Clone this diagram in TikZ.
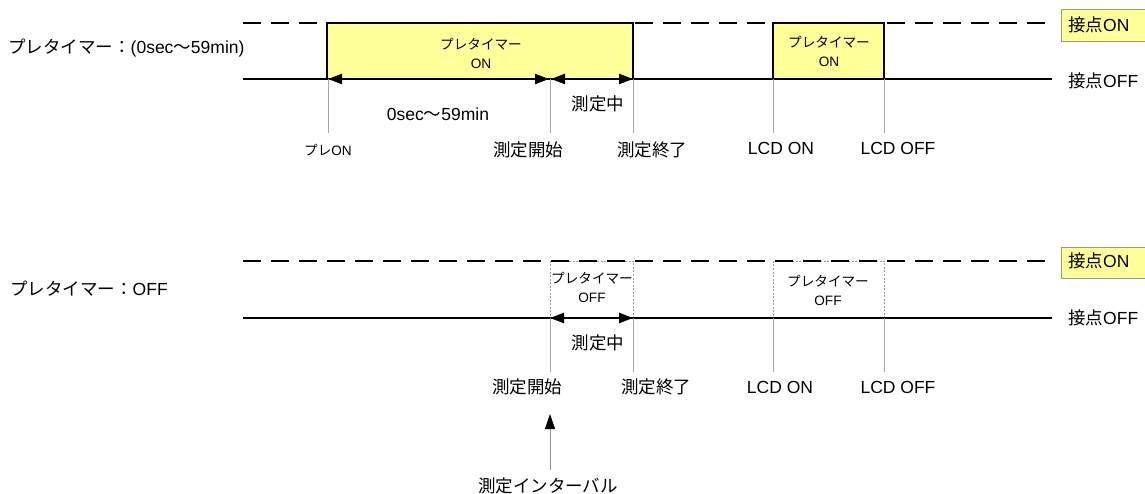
\documentclass[tikz,border=0pt]{standalone}
\usepackage{fontspec}
\setmainfont{Noto Sans CJK JP}
\newfontfamily\latf{Liberation Sans}
\newcommand{\lt}[1]{{\latf #1}}
\usetikzlibrary{arrows.meta}
\definecolor{boxyellow}{HTML}{FFFF99}
\begin{document}
\begin{tikzpicture}[x=1pt,y=-1pt,
  sig/.style={line width=2.4pt},
  sigon/.style={line width=2.4pt, dash pattern=on 18pt off 10pt},
  tick/.style={draw=black!35, line width=0.7pt},
  onbox/.style={draw=black, line width=1.2pt, fill=boxyellow},
  offbox/.style={draw=black!40, line width=0.7pt, dash pattern=on 2pt off 1.5pt},
  dim/.style={line width=2.4pt, {Triangle[length=14pt,width=10pt]}-{Triangle[length=14pt,width=10pt]}},
  big/.style={font=\fontsize{17.5}{20}\selectfont, inner sep=0pt},
  small/.style={font=\fontsize{13.6}{19}\selectfont, inner sep=0pt, align=center},
  legendbox/.style={draw=black!40, line width=0.8pt, fill=boxyellow}
]
\useasboundingbox (0,0) rectangle (1145,494);

% ================= TOP =================
\node[big, anchor=west] (ltop) at (8,48) {プレタイマー：\lt{(0sec}～\lt{59min)}};

\coordinate (tdS) at (243,23);
\coordinate (tdE) at (1052,23);
\coordinate (tsS) at (243,79);
\coordinate (tsE) at (1052,79);
\draw[sigon] (tdS) -- (tdE);

% yellow boxes
\draw[onbox] (327,23) rectangle (633,79);
\draw[onbox] (773,23) rectangle (884,79);
\node[small] (b1) at (481,53) {プレタイマー\\\lt{ON}};
\node[small] (b2) at (829,51) {プレタイマー\\\lt{ON}};

\draw[sig] (tsS) -- (tsE);

% tick points
\coordinate (tA) at (328,79);  \coordinate (tA2) at (328,133);
\coordinate (tB) at (550,79);  \coordinate (tB2) at (550,133);
\coordinate (tC) at (633,79);  \coordinate (tC2) at (633,133);
\coordinate (tD) at (773,79);  \coordinate (tD2) at (773,133);
\coordinate (tE) at (884,79);  \coordinate (tE2) at (884,133);
\draw[tick] (tA) -- (tA2);
\draw[tick] (tB) -- (tB2);
\draw[tick] (tC) -- (tC2);
\draw[tick] (tD) -- (tD2);
\draw[tick] (tE) -- (tE2);

\draw[dim] (tA) -- ([xshift=-1pt]tB);
\draw[dim] ([xshift=1pt]tB) -- (tC);

\node[big] (t0s) at (438,114) {\lt{0sec}～\lt{59min}};
\node[big] (tmeas) at (598,104) {測定中};
\node[small] (tpre) at (328,150) {プレ\lt{ON}};
\node[big] (tstart) at (528,150) {測定開始};
\node[big] (tend) at (652,150) {測定終了};
\node[big] (tlon) at (781,148) {\lt{LCD ON}};
\node[big] (tloff) at (898,148) {\lt{LCD OFF}};

\draw[legendbox] (1061,9) rectangle (1150,41);
\node[big, anchor=west] (tkon) at (1068,25) {接点\lt{ON}};
\node[big, anchor=west] (tkoff) at (1068,81) {接点\lt{OFF}};

% ================= BOTTOM =================
\node[big, anchor=west] (lbot) at (10,289) {プレタイマー：\lt{OFF}};

\coordinate (bdS) at (243,261);
\coordinate (bdE) at (1052,261);
\coordinate (bsS) at (243,318);
\coordinate (bsE) at (1052,318);

\draw[offbox] (550,261) rectangle (633,318);
\draw[offbox] (773,261) rectangle (884,318);
\node[small] (b3) at (592,287) {プレタイマー\\\lt{OFF}};
\node[small] (b4) at (828,290) {プレタイマー\\\lt{OFF}};

\draw[sigon] (bdS) -- (bdE);
\draw[sig] (bsS) -- (bsE);

\coordinate (bB) at (550,318);  \coordinate (bB2) at (550,372);
\coordinate (bC) at (633,318);  \coordinate (bC2) at (633,372);
\coordinate (bD) at (773,318);  \coordinate (bD2) at (773,372);
\coordinate (bE) at (884,318);  \coordinate (bE2) at (884,372);
\draw[tick] (bB) -- (bB2);
\draw[tick] (bC) -- (bC2);
\draw[tick] (bD) -- (bD2);
\draw[tick] (bE) -- (bE2);

\draw[dim] (bB) -- (bC);

\node[big] (bmeas) at (598,343) {測定中};
\node[big] (bstart) at (527,387) {測定開始};
\node[big] (bend) at (656,387) {測定終了};
\node[big] (blon) at (780,387) {\lt{LCD ON}};
\node[big] (bloff) at (898,387) {\lt{LCD OFF}};

\coordinate (iv1) at (550,470);
\coordinate (iv2) at (550,414);
\draw[draw=black!45, line width=0.8pt, -{Triangle[length=15pt,width=10pt,fill=black,color=black]}] (iv1) -- (iv2);
\node[big] (binterval) at (548,486) {測定インターバル};

\draw[legendbox] (1061,247) rectangle (1150,278);
\node[big, anchor=west] (bkon) at (1068,261) {接点\lt{ON}};
\node[big, anchor=west] (bkoff) at (1068,318) {接点\lt{OFF}};
\end{tikzpicture}
\end{document}
